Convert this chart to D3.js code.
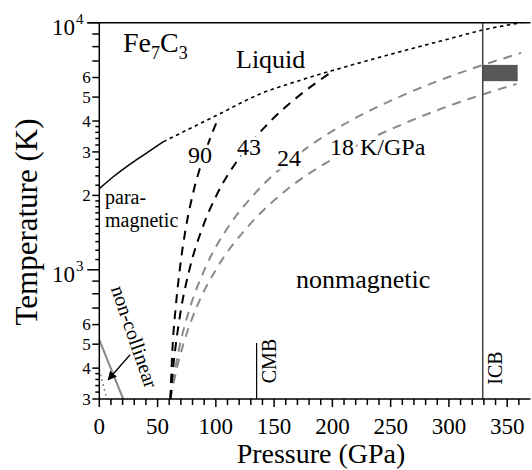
<!DOCTYPE html>
<html>
<head>
<meta charset="utf-8">
<script src="https://cdn.jsdelivr.net/npm/d3@7"></script>
<style>
  body { margin: 0; background: #fff; }
  svg text { font-family: "Liberation Serif", "DejaVu Serif", "Times New Roman", Times, serif; }
  .halo { paint-order: stroke; stroke: #fff; stroke-width: 7px; stroke-linejoin: round; }
</style>
</head>
<body>
<svg id="chart" width="532" height="470" font-family="Liberation Serif, DejaVu Serif, serif"></svg>
<script>
// Pressure axis ticks (GPa)
const pressureTicks = [0, 50, 100, 150, 200, 250, 300, 350];
// Temperature ticks (K)
const decadeTicks = [1000, 10000];
const labeledTicks = [300, 400, 500, 600, 2000, 3000, 4000, 5000, 6000];
const plainTicks = [700, 800, 900, 7000, 8000, 9000];
const minorTicks = [320, 340, 360, 380, 1100, 1200, 1300, 1400, 1500, 1600, 1700, 1800, 1900,
    2200, 2400, 2600, 2800, 3200, 3400, 3600, 3800];

// Melting curve (solid part, then extrapolated dotted part)
const meltSolidP = [0, 12, 28, 42, 55];
const meltSolidT = [2130, 2380, 2710, 3000, 3300];
const meltDotP = [55, 100, 138, 170, 200, 250, 300, 329, 362];
const meltDotT = [3300, 4200, 5150, 5800, 6400, 7450, 8600, 9340, 10000];

// Temperature gradients (K/GPa)
const p90 = [61, 62, 63, 65.5, 69, 74.5, 80, 91, 101];
const t90 = [300, 400, 500, 700, 1000, 1500, 2000, 3000, 4000];
const p43 = [61, 63.3, 65.7, 70.3, 77.3, 89, 100.5, 124, 147, 170, 200];
const t43 = [300, 400, 500, 700, 1000, 1500, 2000, 3000, 4000, 5000, 6350];
const p24 = [61, 65.2, 69.3, 77.7, 90.2, 111, 132, 173.5, 215, 257, 298.5, 362];
const t24 = [300, 400, 500, 700, 1000, 1500, 2000, 3000, 4000, 5000, 6000, 7550];
const p18 = [61, 66.6, 72.1, 83.2, 100, 127.7, 155, 211, 266.6, 322, 358];
const t18 = [300, 400, 500, 700, 1000, 1500, 2000, 3000, 4000, 5000, 5650];

// Non-collinear boundaries at low pressure
const nonColP = [0, 20.5];
const nonColT = [520, 300];
const nonColDotP = [0, 6.5];
const nonColDotT = [395, 300];

// Boundaries
const cmbP = 135, cmbTop = 505;
const icbP = 329;
const coreBoxP = [329, 359];
const coreBoxT = [5800, 6750];

const svg = d3.select("#chart");
const x = d3.scaleLinear().domain([0, 370]).range([99.3, 530.5]);
const y = d3.scaleLog().domain([300, 10000]).range([399, 22.7]);

const zip = (ps, ts) => ps.map((p, i) => [p, ts[i]]);
const line = d3.line().x(d => x(d[0])).y(d => y(d[1])).curve(d3.curveMonotoneX);
const straight = d3.line().x(d => x(d[0])).y(d => y(d[1]));

// core box
svg.append("rect")
    .attr("x", x(coreBoxP[0])).attr("y", y(coreBoxT[1]))
    .attr("width", x(coreBoxP[1]) - x(coreBoxP[0]))
    .attr("height", y(coreBoxT[0]) - y(coreBoxT[1]))
    .attr("fill", "#585858");

// gradient lines
const grads = [
    { d: zip(p18, t18), color: "#8a8a8a" },
    { d: zip(p24, t24), color: "#8a8a8a" },
    { d: zip(p43, t43), color: "#000" },
    { d: zip(p90, t90), color: "#000" }
];
grads.forEach(g => {
    svg.append("path").attr("d", line(g.d))
        .attr("fill", "none").attr("stroke", g.color)
        .attr("stroke-width", 2).attr("stroke-dasharray", "9,7");
});

// melting curve
svg.append("path").attr("d", line(zip(meltSolidP, meltSolidT)))
    .attr("fill", "none").attr("stroke", "#000").attr("stroke-width", 1.5);
svg.append("path").attr("d", line(zip(meltDotP, meltDotT)))
    .attr("fill", "none").attr("stroke", "#000").attr("stroke-width", 1.6)
    .attr("stroke-dasharray", "3.5,3.5");

// non-collinear region
svg.append("path").attr("d", straight(zip(nonColP, nonColT)))
    .attr("fill", "none").attr("stroke", "#888").attr("stroke-width", 2);
svg.append("path").attr("d", straight(zip(nonColDotP, nonColDotT)))
    .attr("fill", "none").attr("stroke", "#888").attr("stroke-width", 1.5)
    .attr("stroke-dasharray", "2,3");

// CMB and ICB
svg.append("line").attr("x1", x(cmbP)).attr("x2", x(cmbP))
    .attr("y1", y(300)).attr("y2", y(cmbTop))
    .attr("stroke", "#000").attr("stroke-width", 1.2);
svg.append("line").attr("x1", x(icbP)).attr("x2", x(icbP))
    .attr("y1", y(300)).attr("y2", y(10000))
    .attr("stroke", "#444").attr("stroke-width", 1.5);

// axes
const ax = svg.append("g").attr("stroke", "#000").attr("stroke-width", 1.5);
ax.append("line").attr("x1", x(0)).attr("x2", x(370)).attr("y1", y(300)).attr("y2", y(300));
ax.append("line").attr("x1", x(0) - 12).attr("x2", x(370)).attr("y1", y(10000)).attr("y2", y(10000));
ax.append("line").attr("x1", x(0)).attr("x2", x(0)).attr("y1", y(10000)).attr("y2", y(300));

d3.range(0, 370, 10).forEach(p => {
    const major = pressureTicks.includes(p);
    ax.append("line").attr("x1", x(p)).attr("x2", x(p))
        .attr("y1", y(300)).attr("y2", y(300) + (major ? 8 : 6));
});
decadeTicks.forEach(t => ax.append("line").attr("x1", x(0) - 12).attr("x2", x(0)).attr("y1", y(t)).attr("y2", y(t)));
labeledTicks.concat(plainTicks).forEach(t =>
    ax.append("line").attr("x1", x(0) - 7).attr("x2", x(0)).attr("y1", y(t)).attr("y2", y(t)));
minorTicks.forEach(t =>
    ax.append("line").attr("x1", x(0) - 4).attr("x2", x(0)).attr("y1", y(t)).attr("y2", y(t)));

// tick labels
svg.selectAll(".xl").data(pressureTicks).enter().append("text")
    .attr("x", d => x(d)).attr("y", 434)
    .attr("text-anchor", "middle").attr("font-size", 23).text(d => d);

svg.selectAll(".yl").data(labeledTicks).enter().append("text")
    .attr("x", x(0) - 8.5).attr("y", d => y(d)).attr("dy", "0.34em")
    .attr("text-anchor", "end").attr("font-size", 17)
    .text(d => String(d).replace(/^(\d).*/, "$1"));

decadeTicks.forEach(t => {
    const g = svg.append("text").attr("x", 52).attr("y", y(t) + 12.5).attr("font-size", 23);
    g.append("tspan").text("10");
    g.append("tspan").attr("dy", -11).attr("dx", 1).attr("font-size", 15).text(Math.log10(t));
});

// axis titles
svg.append("text").attr("x", 321).attr("y", 463).attr("text-anchor", "middle")
    .attr("font-size", 28).text("Pressure (GPa)");
svg.append("text").attr("transform", "translate(37,222) rotate(-90)")
    .attr("text-anchor", "middle").attr("font-size", 31).text("Temperature (K)");

// annotations
const fe = svg.append("text").attr("x", 123).attr("y", 52).attr("font-size", 28);
fe.append("tspan").text("Fe");
fe.append("tspan").attr("dy", 7).attr("font-size", 18).text("7");
fe.append("tspan").attr("dy", -7).text("C");
fe.append("tspan").attr("dy", 7).attr("font-size", 18).text("3");

const note = (tx, ty, s, size, cls) =>
    svg.append("text").attr("class", cls || null)
        .attr("x", tx).attr("y", ty).attr("font-size", size).text(s);
note(236, 68, "Liquid", 26);
note(296, 288, "nonmagnetic", 26);
note(105, 204, "para-", 20);
note(105, 227, "magnetic", 20);
note(188, 163, "90", 24, "halo");
note(237, 155, "43", 24, "halo");
note(277, 166, "24", 24, "halo");
note(330, 155, "18 K/GPa", 24, "halo");

svg.append("text").attr("transform", "translate(128,339) rotate(71)")
    .attr("text-anchor", "middle").attr("font-size", 20).text("non-collinear");
svg.append("text").attr("transform", `translate(${x(cmbP) + 19},361) rotate(-90)`)
    .attr("text-anchor", "middle").attr("font-size", 20).text("CMB");
svg.append("text").attr("transform", `translate(${x(icbP) + 19},368) rotate(-90)`)
    .attr("text-anchor", "middle").attr("font-size", 20).text("ICB");

// arrow to the non-collinear region
svg.append("defs").append("marker")
    .attr("id", "head").attr("viewBox", "0 0 10 10").attr("refX", 9).attr("refY", 5)
    .attr("markerWidth", 9).attr("markerHeight", 9).attr("markerUnits", "userSpaceOnUse")
    .attr("orient", "auto")
    .append("path").attr("d", "M0,0L10,5L0,10z").attr("fill", "#000");
svg.append("line")
    .attr("x1", x(26.4)).attr("y1", y(453)).attr("x2", x(7.6)).attr("y2", y(359))
    .attr("stroke", "#000").attr("stroke-width", 1.3).attr("marker-end", "url(#head)");
</script>
</body>
</html>
